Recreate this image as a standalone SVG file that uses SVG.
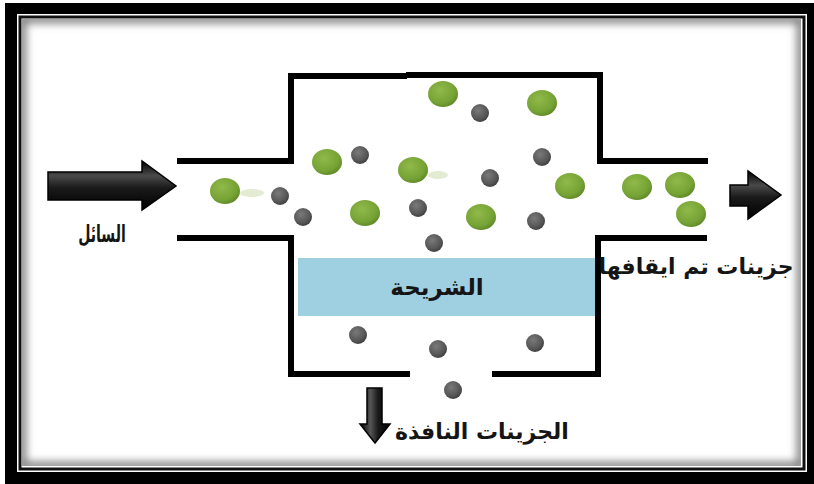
<svg xmlns="http://www.w3.org/2000/svg" width="814" height="484" viewBox="0 0 814 484">
<style>
.wall{fill:none;stroke:#000;stroke-width:6;stroke-linecap:butt;stroke-linejoin:miter}
.lbl{font-family:"DejaVu Sans",sans-serif;font-weight:bold;fill:#151515;text-anchor:middle}
.arrow{fill:url(#ag);stroke:#000;stroke-width:1.5}
.arrowv{fill:url(#agv);stroke:#000;stroke-width:1.5}
</style>
<defs>
<radialGradient id="gg" cx="0.4" cy="0.35" r="0.7">
<stop offset="0" stop-color="#90ba4a"/>
<stop offset="0.7" stop-color="#76a335"/>
<stop offset="1" stop-color="#5e8627"/>
</radialGradient>
<radialGradient id="gy" cx="0.4" cy="0.35" r="0.7">
<stop offset="0" stop-color="#7a7a7a"/>
<stop offset="0.7" stop-color="#555"/>
<stop offset="1" stop-color="#3a3a3a"/>
</radialGradient>
<linearGradient id="ag" x1="0" y1="0" x2="0" y2="1">
<stop offset="0" stop-color="#000"/>
<stop offset="0.3" stop-color="#4a4a4a"/>
<stop offset="0.55" stop-color="#1a1a1a"/>
<stop offset="1" stop-color="#000"/>
</linearGradient>
<linearGradient id="agv" x1="0" y1="0" x2="1" y2="0">
<stop offset="0" stop-color="#000"/>
<stop offset="0.35" stop-color="#555"/>
<stop offset="0.6" stop-color="#1a1a1a"/>
<stop offset="1" stop-color="#000"/>
</linearGradient>
<filter id="blur" x="-0.1" y="-0.1" width="1.2" height="1.2"><feGaussianBlur stdDeviation="4"/></filter>
<clipPath id="inner"><rect x="22" y="19" width="779" height="447"/></clipPath>
</defs>

<g id="frame">
<rect x="0" y="0" width="814" height="484" fill="#fff"/>
<rect x="5" y="3" width="809" height="481" fill="#000"/>
<rect x="17" y="14" width="790" height="458" fill="#fff"/>
<rect x="20" y="17" width="784" height="452" fill="#fff" stroke="#111" stroke-width="3"/>
<g clip-path="url(#inner)">
<rect x="22" y="19" width="779" height="447" fill="none" stroke="#777" stroke-width="8" filter="url(#blur)"/>
</g>
</g>

<g id="membrane">
<rect x="298" y="258" width="297" height="58" fill="#9fd0e1"/>
<text class="lbl" x="437" y="295" font-size="23">الشريحة</text>
</g>

<g id="chamber">
<polyline class="wall" points="177,161 291,161 291,76 407,76"/>
<polyline class="wall" points="406,75 600,75 600,161 708,161"/>
<polyline class="wall" points="177,238 291,238 291,374 410,374"/>
<polyline class="wall" points="492,374 598,374 598,238 707,238"/>
</g>

<g id="particles">
<ellipse cx="252" cy="193" rx="12" ry="4" fill="#e3ecd3"/>
<ellipse cx="438" cy="175" rx="10" ry="4" fill="#e3ecd3"/>
<g fill="url(#gg)">
<ellipse cx="225" cy="191" rx="15" ry="13"/>
<ellipse cx="443" cy="94" rx="15" ry="13"/>
<ellipse cx="542" cy="103" rx="15" ry="13"/>
<ellipse cx="327" cy="162" rx="15" ry="13"/>
<ellipse cx="413" cy="170" rx="15" ry="13"/>
<ellipse cx="365" cy="213" rx="15" ry="13"/>
<ellipse cx="481" cy="217" rx="15" ry="13"/>
<ellipse cx="570" cy="186" rx="15" ry="13"/>
<ellipse cx="637" cy="187" rx="15" ry="13"/>
<ellipse cx="680" cy="185" rx="15" ry="13"/>
<ellipse cx="691" cy="214" rx="15" ry="13"/>
</g>
<g fill="url(#gy)">
<circle cx="280" cy="196" r="9"/>
<circle cx="303" cy="217" r="9"/>
<circle cx="360" cy="155" r="9"/>
<circle cx="480" cy="113" r="9"/>
<circle cx="542" cy="157" r="9"/>
<circle cx="490" cy="178" r="9"/>
<circle cx="418" cy="208" r="9"/>
<circle cx="536" cy="221" r="9"/>
<circle cx="434" cy="243" r="9"/>
<circle cx="358" cy="335" r="9"/>
<circle cx="438" cy="349" r="9"/>
<circle cx="535" cy="343" r="9"/>
<circle cx="453" cy="390" r="9"/>
</g>
</g>

<g id="connectors">
<path class="arrow" d="M48,172 L142,172 L142,161 L176,186 L142,210 L142,200 L48,200 Z"/>
<path class="arrow" d="M730,185 L748,185 L748,171 L781,195 L748,219 L748,206 L730,206 Z"/>
<path class="arrowv" d="M367,388 L382,388 L382,424 L390,424 L375,443 L360,424 L367,424 Z"/>
</g>

<g id="labels">
<text class="lbl" font-size="22" transform="translate(102,242) scale(0.64,1.08)">السائل</text>
<text class="lbl" x="696" y="274" font-size="22">جزينات تم ايقافها</text>
<text class="lbl" x="482" y="439" font-size="22">الجزينات النافذة</text>
</g>
</svg>
